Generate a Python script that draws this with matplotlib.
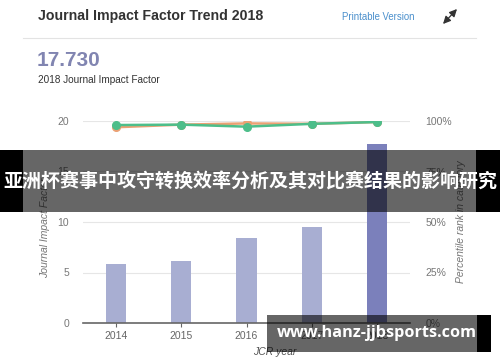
import matplotlib
matplotlib.use("Agg")
import matplotlib.pyplot as plt
from matplotlib.patches import Rectangle
import numpy as np

years = ["2014", "2015", "2016", "2017", "2018"]
jif = [5.84, 6.17, 8.40, 9.50, 17.73]
pct_green = [98.0, 98.2, 97.2, 98.6, 99.5]
pct_orange = [96.9, 98.2, 98.8, 98.6, 99.5]
left_ticks = [0, 5, 10, 15, 20]
right_ticks = ["0%", "25%", "50%", "75%", "100%"]

W, H = 500, 362
fig = plt.figure(figsize=(W / 100, H / 100), dpi=100)
fig.patch.set_facecolor("white")

def fx(px):
    return px / W

def fy(py):
    return 1 - py / H

# header
fig.text(fx(38), fy(16), "Journal Impact Factor Trend 2018", family="Liberation Sans",
         weight="bold", fontsize=10.2, color="#333333", va="center", ha="left")
fig.text(fx(342), fy(17), "Printable Version", family="Liberation Sans",
         fontsize=6.9, color="#4a8fcc", va="center", ha="left")
fig.add_artist(matplotlib.patches.FancyArrowPatch((fx(443), fy(24)), (fx(457), fy(9)),
               transform=fig.transFigure,
               arrowstyle="<|-|>,head_length=0.45,head_width=0.22", mutation_scale=10,
               color="#333333", lw=0.9, shrinkA=0, shrinkB=0))
fig.add_artist(matplotlib.lines.Line2D([fx(23), fx(476)], [fy(38), fy(38)],
               transform=fig.transFigure, color="#e3e3e3", lw=0.8))
fig.text(fx(37), fy(60), "17.730", family="Liberation Sans", weight="bold",
         fontsize=15, color="#8185b1", va="center", ha="left")
fig.text(fx(38), fy(80), "2018 Journal Impact Factor", family="Liberation Sans",
         fontsize=7.2, color="#333333", va="center", ha="left")

# chart
ax = fig.add_axes([fx(83), fy(323), fx(410) - fx(83), fy(121) - fy(323)])
x = np.arange(len(years))
colors = ["#a8aed2"] * 4 + ["#7b80bb"]
ax.bar(x, jif, width=0.31, color=colors, zorder=2)
ax.set_xlim(-0.5, len(years) - 0.5)
ax.set_ylim(0, 20)
ax.set_yticks(left_ticks)
ax.set_yticklabels([str(t) for t in left_ticks])
ax.grid(axis="y", color="#e6e6e6", lw=0.8, zorder=0)
for s in ["top", "right", "left"]:
    ax.spines[s].set_visible(False)
ax.spines["bottom"].set_color("#666666")
ax.spines["bottom"].set_linewidth(1.2)
ax.set_xticks(x)
ax.set_xticklabels(years)
ax.tick_params(axis="x", length=3, color="#666666", labelsize=7.5, labelcolor="#666666", pad=3)
ax.tick_params(axis="y", length=0, labelsize=7.5, labelcolor="#777777", pad=10)
for lab in ax.get_xticklabels() + ax.get_yticklabels():
    lab.set_family("Liberation Sans")
ax.set_xlabel("JCR year", family="Liberation Sans", style="italic", fontsize=7.5, color="#555555")
ax.xaxis.set_label_coords(0.585, -0.12)
ax.set_ylabel("Journal Impact Factor", family="Liberation Sans", style="italic", fontsize=7.5, color="#777777")
ax.yaxis.set_label_coords(-0.10, 0.47)

ax2 = ax.twinx()
ax2.set_ylim(0, 100)
ax2.set_yticks([0, 25, 50, 75, 100])
ax2.set_yticklabels(right_ticks)
for s in ["top", "right", "left", "bottom"]:
    ax2.spines[s].set_visible(False)
ax2.tick_params(axis="y", length=0, labelsize=7.5, labelcolor="#777777", pad=11)
for lab in ax2.get_yticklabels():
    lab.set_family("Liberation Sans")
ax2.plot(x, pct_orange, color="#eba174", lw=1.8, marker="o", ms=5.5, zorder=3)
ax2.plot(x, pct_green, color="#4dbe8a", lw=1.8, marker="o", ms=5.5, zorder=4)
ax2.set_ylabel("Percentile rank in category", family="Liberation Sans", style="italic",
               fontsize=7.5, color="#777777")
ax2.yaxis.set_label_coords(1.14, 0.5)

# overlays
def rect(x0, y0, x1, y1, color, alpha):
    fig.add_artist(Rectangle((fx(x0), fy(y1)), fx(x1) - fx(x0), fy(y0) - fy(y1),
                             transform=fig.transFigure, facecolor=color, alpha=alpha,
                             edgecolor="none", zorder=10))

rect(0, 150, 23, 212, "black", 1.0)
rect(476, 150, 500, 212, "black", 1.0)
rect(23, 150, 476, 212, "black", 0.6)
fig.text(0.5, fy(182), "亚洲杯赛事中攻守转换效率分析及其对比赛结果的影响研究",
         family=["Noto Sans CJK SC", "DejaVu Sans"], weight="bold", fontsize=13.7,
         color="white", ha="center", va="center", zorder=11)

rect(267, 315, 477, 352, "black", 0.6)
rect(477, 315, 491, 352, "black", 1.0)
fig.text(fx(377), fy(333), "www.hanz-jjbsports.com", family="Open Sans", weight="bold",
         fontsize=11.7, color="white", ha="center", va="center", zorder=11)

fig.savefig("out.png", dpi=100)
